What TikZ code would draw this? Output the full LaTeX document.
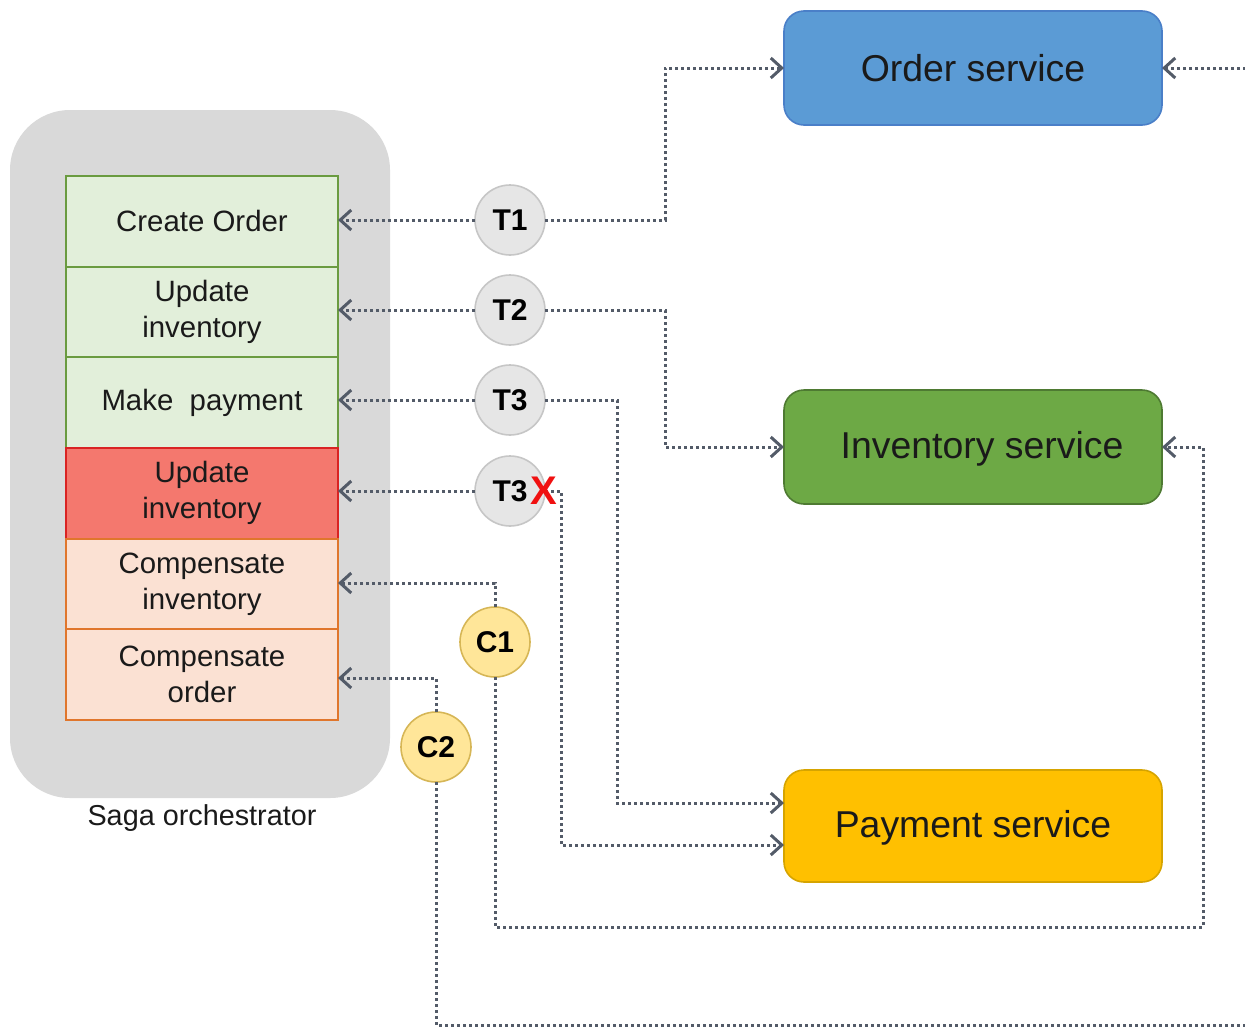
\documentclass[tikz,border=0pt]{standalone}
\usepackage{fontspec}
\setmainfont{Liberation Sans}
\usetikzlibrary{arrows.meta,calc}
\definecolor{contgray}{HTML}{D9D9D9}
\definecolor{grfill}{HTML}{E2EFDA}
\definecolor{grdraw}{HTML}{6A9B40}
\definecolor{rdfill}{HTML}{F4786E}
\definecolor{rddraw}{HTML}{D92323}
\definecolor{orfill}{HTML}{FBE1D3}
\definecolor{ordraw}{HTML}{E0762C}
\definecolor{cgfill}{HTML}{E6E6E6}
\definecolor{cgdraw}{HTML}{C6C6C6}
\definecolor{cyfill}{HTML}{FFE699}
\definecolor{cydraw}{HTML}{D6B656}
\definecolor{osfill}{HTML}{5B9BD5}
\definecolor{osdraw}{HTML}{4A7FC8}
\definecolor{isfill}{HTML}{6DA945}
\definecolor{isdraw}{HTML}{4E7A32}
\definecolor{psfill}{HTML}{FFC000}
\definecolor{psdraw}{HTML}{D6A400}
\definecolor{linegray}{HTML}{535B68}
\definecolor{txt}{HTML}{1A1A1A}
\definecolor{xred}{HTML}{F01010}
\tikzset{
  stepcell/.style={draw, line width=1pt, minimum width=136pt, minimum height=45.33pt, inner sep=0pt, outer sep=0pt, align=center, text=txt, font=\fontsize{14.7pt}{18pt}\selectfont},
  okcell/.style={stepcell, fill=grfill, draw=grdraw},
  badcell/.style={stepcell, fill=rdfill, draw=rddraw},
  compcell/.style={stepcell, fill=orfill, draw=ordraw},
  tcirc/.style={circle, minimum size=35pt, inner sep=0pt, outer sep=0pt, fill=cgfill, draw=cgdraw, line width=0.8pt, font=\bfseries\fontsize{15pt}{18pt}\selectfont, text=black},
  ccirc/.style={tcirc, fill=cyfill, draw=cydraw},
  svc/.style={rounded corners=10pt, minimum width=189pt, minimum height=57pt, inner sep=0pt, outer sep=0pt, line width=0.8pt},
  svctext/.style={text=txt, font=\fontsize{18.7pt}{22pt}\selectfont},
  conn/.style={draw=linegray, line width=1.5pt, dash pattern=on 1.4pt off 1.6pt, -{Straight Barb[length=5.5pt,width=10pt,line width=1.5pt]}},
}
\begin{document}
\begin{tikzpicture}[x=0.5pt,y=-0.5pt]
\useasboundingbox (0,0) rectangle (1245,1028);
\clip (0,0) rectangle (1245,1028);
% container
\node[fill=contgray, rounded corners=30pt, minimum width=190pt, minimum height=344pt, inner sep=0pt] (saga) at (200,454) {};
\node[text=txt, font=\fontsize{14.4pt}{18pt}\selectfont] (sagalabel) at (202,818) {Saga orchestrator};
% steps
\node[okcell] (s1) at (202,221.3) {Create Order};
\node[okcell] (s2) at (202,312) {Update\\inventory};
\node[okcell] (s3) at (202,402.7) {Make\ \ payment};
\node[badcell] (s4) at (202,493.3) {Update\\inventory};
\node[compcell] (s5) at (202,584) {Compensate\\inventory};
\node[compcell] (s6) at (202,674.7) {Compensate\\order};
% services
\node[svc, fill=osfill, draw=osdraw] (os) at (973,68) {};
\node[svctext] (oslabel) at (973,68) {Order service};
\node[svc, fill=isfill, draw=isdraw] (inv) at (973,447) {};
\node[svctext] (invlabel) at (982,449) {Inventory service};
\node[svc, fill=psfill, draw=psdraw, minimum height=56pt] (pay) at (973,826) {};
\node[svctext] (paylabel) at (973,828) {Payment service};
% circles
\node[tcirc] (t1) at (510,220) {T1};
\node[tcirc] (t2) at (510,310) {T2};
\node[tcirc] (t3) at (510,400) {T3};
\node[tcirc] (t4) at (510,491) {T3};
\node[ccirc] (c1) at (495,642) {C1};
\node[ccirc] (c2) at (436,747) {C2};
% waypoints
\coordinate (b1) at (665,0);
\coordinate (b3) at (617,0);
\coordinate (b4) at (561,0);
\coordinate (p1) at ($(pay.west)+(0,-23)$);
\coordinate (p2) at ($(pay.west)+(0,19)$);
\coordinate (r1) at (1203,927);
\coordinate (r2) at (1270,1025);
\coordinate (k1) at (0,583);
\coordinate (k2) at (0,678);
% connectors to steps
\draw[conn] (t1.west) -- (t1.west -| s1.east);
\draw[conn] (t2.west) -- (t2.west -| s2.east);
\draw[conn] (t3.west) -- (t3.west -| s3.east);
\draw[conn] (t4.west) -- (t4.west -| s4.east);
\draw[conn] (c1.north) |- (k1 -| s5.east);
\draw[conn] (c2.north) |- (k2 -| s6.east);
% connectors to services
\draw[conn] (t1.east) -| (b1 |- os.west) -- (os.west);
\draw[conn] (t2.east) -| (b1 |- inv.west) -- (inv.west);
\draw[conn] (t3.east) -| (b3 |- p1) -- (p1);
\draw[conn] (t4.east) -| (b4 |- p2) -- (p2);
\draw[conn] (c1.south) |- (r1) |- (inv.east);
\draw[conn] (c2.south) |- (r2) |- (os.east);
% failure mark
\node[text=xred, font=\bfseries\fontsize{20pt}{22pt}\selectfont, inner sep=0pt] (xmark) at (544,491) {X};
\end{tikzpicture}
\end{document}
